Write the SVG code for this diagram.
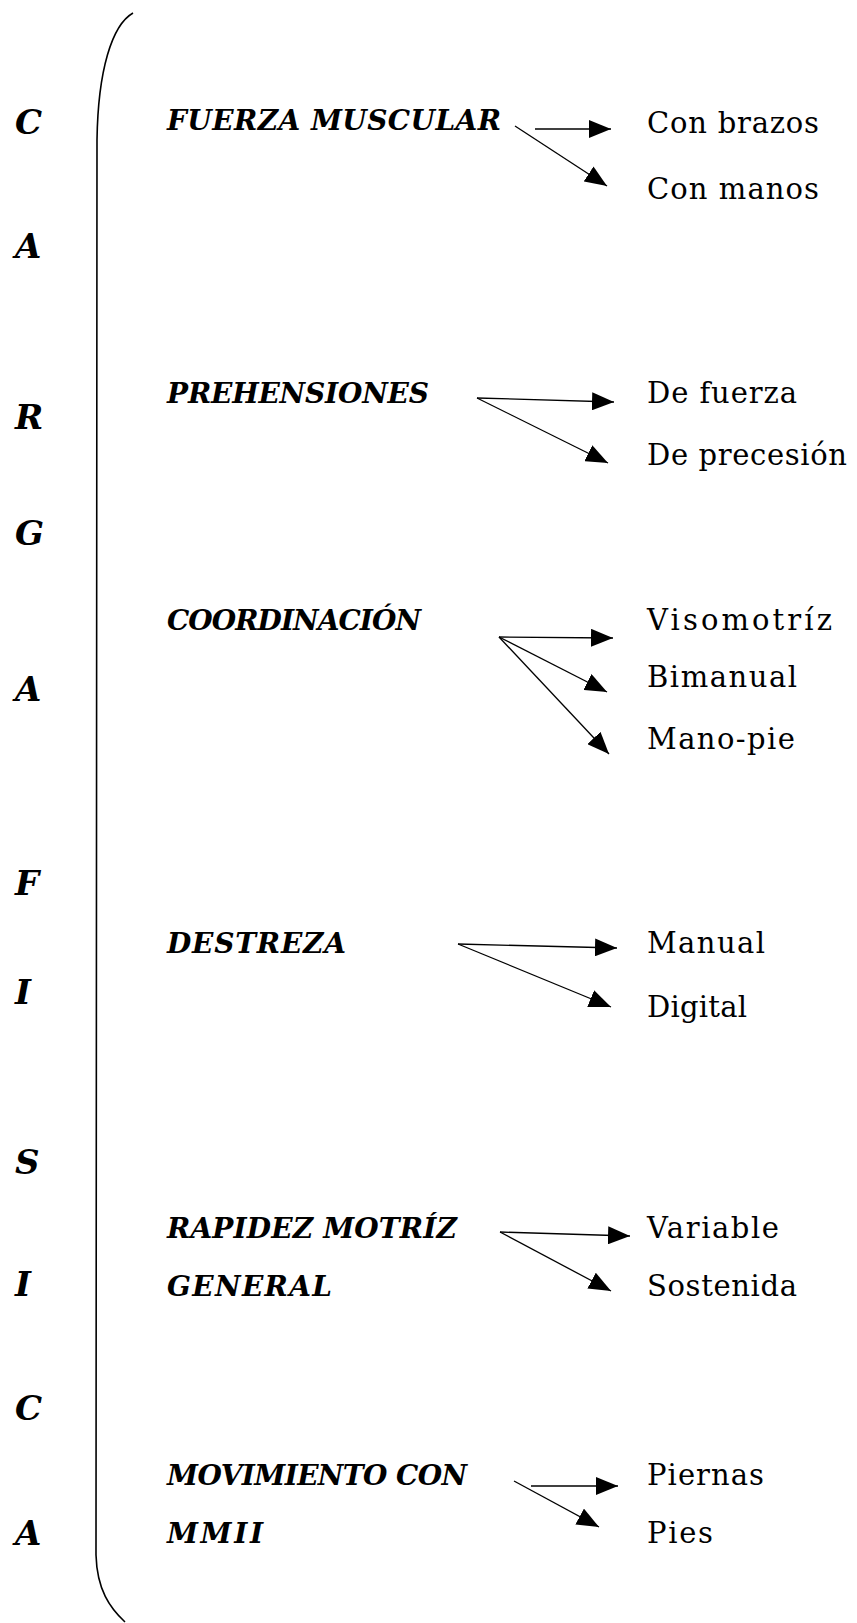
<svg xmlns="http://www.w3.org/2000/svg" width="857" height="1623" viewBox="0 0 857 1623">
<style>
.bg{fill:#ffffff}
.letter{font-family:"DejaVu Serif","Liberation Serif",serif;font-weight:bold;font-style:italic;font-size:34px;fill:#000}
.main{font-family:"DejaVu Serif","Liberation Serif",serif;font-weight:bold;font-style:italic;font-size:28px;fill:#000}
.sub{font-family:"DejaVu Serif","Liberation Serif",serif;font-size:29px;fill:#000}
.conn{stroke:#000;stroke-width:1.3;fill:none}
.brace{stroke:#000;stroke-width:1.6;fill:none}
</style>
<defs>
<marker id="ah" viewBox="0 0 22 18" refX="22" refY="9" markerWidth="22" markerHeight="18" markerUnits="userSpaceOnUse" orient="auto">
<path d="M0,0 L22,9 L0,18 z" fill="#000"/>
</marker>
</defs>
<rect class="bg" x="0" y="0" width="857" height="1623"/>
<g id="vertical-word">
<text class="letter" x="15" y="134">C</text>
<text class="letter" x="15" y="258">A</text>
<text class="letter" x="15" y="429">R</text>
<text class="letter" x="15" y="545">G</text>
<text class="letter" x="15" y="701">A</text>
<text class="letter" x="15" y="895">F</text>
<text class="letter" x="15" y="1004">I</text>
<text class="letter" x="15" y="1174">S</text>
<text class="letter" x="15" y="1296">I</text>
<text class="letter" x="15" y="1420">C</text>
<text class="letter" x="15" y="1545">A</text>
</g>
<g id="brace">
<path class="brace" d="M133,13 C112,25 98,70 97,140 L96,1555 C97,1590 110,1608 125,1622"/>
</g>
<g id="fuerza-muscular"><text class="main" x="167" y="130" textLength="334" lengthAdjust="spacing">FUERZA MUSCULAR</text></g>
<g id="prehensiones"><text class="main" x="167" y="403" textLength="262" lengthAdjust="spacing">PREHENSIONES</text></g>
<g id="coordinacion"><text class="main" x="167" y="630" textLength="254" lengthAdjust="spacing">COORDINACIÓN</text></g>
<g id="destreza"><text class="main" x="167" y="953" textLength="179" lengthAdjust="spacing">DESTREZA</text></g>
<g id="rapidez"><text class="main" x="167" y="1238" textLength="290" lengthAdjust="spacing">RAPIDEZ MOTRÍZ</text><text class="main" x="167" y="1296" textLength="165" lengthAdjust="spacing">GENERAL</text></g>
<g id="movimiento"><text class="main" x="167" y="1485" textLength="300" lengthAdjust="spacing">MOVIMIENTO CON</text><text class="main" x="167" y="1543" textLength="96" lengthAdjust="spacing">MMII</text></g>
<g id="con-brazos"><text class="sub" x="647" y="133" textLength="172" lengthAdjust="spacing">Con brazos</text></g>
<g id="con-manos"><text class="sub" x="647" y="199" textLength="172" lengthAdjust="spacing">Con manos</text></g>
<g id="de-fuerza"><text class="sub" x="647" y="403" textLength="150" lengthAdjust="spacing">De fuerza</text></g>
<g id="de-precesion"><text class="sub" x="647" y="465" textLength="200" lengthAdjust="spacing">De precesión</text></g>
<g id="visomotriz"><text class="sub" x="647" y="630" textLength="185" lengthAdjust="spacing">Visomotríz</text></g>
<g id="bimanual"><text class="sub" x="647" y="687" textLength="150" lengthAdjust="spacing">Bimanual</text></g>
<g id="mano-pie"><text class="sub" x="647" y="749" textLength="148" lengthAdjust="spacing">Mano-pie</text></g>
<g id="manual"><text class="sub" x="647" y="953" textLength="118" lengthAdjust="spacing">Manual</text></g>
<g id="digital"><text class="sub" x="647" y="1017" textLength="100" lengthAdjust="spacing">Digital</text></g>
<g id="variable"><text class="sub" x="647" y="1238" textLength="132" lengthAdjust="spacing">Variable</text></g>
<g id="sostenida"><text class="sub" x="647" y="1296" textLength="150" lengthAdjust="spacing">Sostenida</text></g>
<g id="piernas"><text class="sub" x="647" y="1485" textLength="117" lengthAdjust="spacing">Piernas</text></g>
<g id="pies"><text class="sub" x="647" y="1543" textLength="66" lengthAdjust="spacing">Pies</text></g>
<g id="connectors">
<line class="conn" x1="535" y1="129" x2="611" y2="129" marker-end="url(#ah)"/>
<line class="conn" x1="515" y1="126" x2="607" y2="186" marker-end="url(#ah)"/>
<line class="conn" x1="477" y1="398" x2="614" y2="402" marker-end="url(#ah)"/>
<line class="conn" x1="477" y1="398" x2="608" y2="463" marker-end="url(#ah)"/>
<line class="conn" x1="499" y1="637" x2="613" y2="638" marker-end="url(#ah)"/>
<line class="conn" x1="499" y1="637" x2="607" y2="692" marker-end="url(#ah)"/>
<line class="conn" x1="499" y1="637" x2="609" y2="754" marker-end="url(#ah)"/>
<line class="conn" x1="458" y1="944" x2="617" y2="948" marker-end="url(#ah)"/>
<line class="conn" x1="458" y1="944" x2="611" y2="1007" marker-end="url(#ah)"/>
<line class="conn" x1="500" y1="1232" x2="630" y2="1236" marker-end="url(#ah)"/>
<line class="conn" x1="500" y1="1232" x2="611" y2="1291" marker-end="url(#ah)"/>
<line class="conn" x1="531" y1="1486" x2="618" y2="1486" marker-end="url(#ah)"/>
<line class="conn" x1="514" y1="1481" x2="599" y2="1527" marker-end="url(#ah)"/>
</g>
</svg>
